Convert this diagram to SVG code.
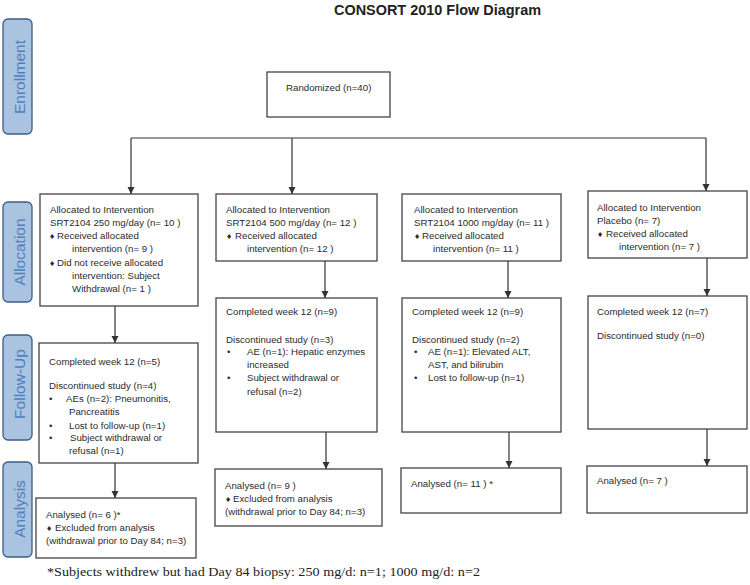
<svg xmlns="http://www.w3.org/2000/svg" width="750" height="585" viewBox="0 0 750 585">
<defs>
<marker id="arr" markerUnits="userSpaceOnUse" markerWidth="8" markerHeight="8" refX="7" refY="3.5" orient="auto">
<path d="M0,0 L7,3.5 L0,7 z" fill="#333"/>
</marker>
<style>
.box{fill:#fff;stroke:#444;stroke-width:1.3}
.lab{fill:#a9c3e0;stroke:#3b5d86;stroke-width:1.3}
.labt{font-family:"Liberation Sans",Arial,sans-serif;font-size:15.5px;fill:#4f7fbe;text-anchor:middle}
.t{font-family:"Liberation Sans",Arial,sans-serif;font-size:9.7px;fill:#2b2b2b}
.d{font-family:"DejaVu Sans",sans-serif;font-size:7px;fill:#2b2b2b}
.conn{fill:none;stroke:#333;stroke-width:1.2}
</style>
</defs>
<rect width="750" height="585" fill="#fff"/>
<text x="437.5" y="15" font-family="Liberation Sans, Arial, sans-serif" font-size="14" font-weight="bold" fill="#222" text-anchor="middle" textLength="207" lengthAdjust="spacingAndGlyphs">CONSORT 2010 Flow Diagram</text>

<g id="label-enrollment"><rect class="lab" x="3" y="19" width="29" height="115" rx="5"/><text class="labt" transform="translate(25,77) rotate(-90)">Enrollment</text></g>
<g id="label-allocation"><rect class="lab" x="3" y="202" width="29" height="100" rx="5"/><text class="labt" transform="translate(25,252) rotate(-90)">Allocation</text></g>
<g id="label-followup"><rect class="lab" x="3" y="335" width="29" height="105" rx="5"/><text class="labt" transform="translate(25,384) rotate(-90)">Follow-Up</text></g>
<g id="label-analysis"><rect class="lab" x="3" y="462" width="29" height="95" rx="5"/><text class="labt" transform="translate(25,509) rotate(-90)">Analysis</text></g>

<g id="randomized"><rect class="box" x="267" y="72" width="123" height="45"/><text class="t" x="286" y="90.5">Randomized (n=40)</text></g>

<g id="alloc-250"><rect class="box" x="40" y="194" width="158" height="112"/>
<text class="t" x="50" y="213">Allocated to Intervention</text>
<text class="t" x="50" y="226">SRT2104 250 mg/day (n= 10 )</text>
<text class="d" x="49" y="239">♦</text><text class="t" x="57" y="239">Received allocated</text>
<text class="t" x="72" y="252">intervention (n= 9 )</text>
<text class="d" x="49" y="265.5">♦</text><text class="t" x="57" y="265.5">Did not receive allocated</text>
<text class="t" x="72" y="279">intervention: Subject</text>
<text class="t" x="72" y="292">Withdrawal (n= 1 )</text>
</g>
<g id="alloc-500"><rect class="box" x="216" y="194" width="161" height="67"/>
<text class="t" x="226" y="213">Allocated to Intervention</text>
<text class="t" x="226" y="226">SRT2104 500 mg/day (n= 12 )</text>
<text class="d" x="226" y="239">♦</text><text class="t" x="235" y="239">Received allocated</text>
<text class="t" x="247" y="252">intervention (n= 12 )</text>
</g>
<g id="alloc-1000"><rect class="box" x="402" y="194" width="159" height="67"/>
<text class="t" x="414" y="213">Allocated to Intervention</text>
<text class="t" x="414" y="226">SRT2104 1000 mg/day (n= 11 )</text>
<text class="d" x="414" y="239">♦</text><text class="t" x="422" y="239">Received allocated</text>
<text class="t" x="433" y="252">intervention (n= 11 )</text>
</g>
<g id="alloc-placebo"><rect class="box" x="588" y="191" width="159" height="67"/>
<text class="t" x="597" y="210.5">Allocated to Intervention</text>
<text class="t" x="597" y="223.5">Placebo (n= 7)</text>
<text class="d" x="597" y="236.5">♦</text><text class="t" x="606" y="236.5">Received allocated</text>
<text class="t" x="619" y="249.5">intervention (n= 7 )</text>
</g>

<g id="fu-250"><rect class="box" x="39" y="343" width="159" height="120"/>
<text class="t" x="49" y="365">Completed week 12 (n=5)</text>
<text class="t" x="49" y="388.5">Discontinued study (n=4)</text>
<text class="t" x="49" y="402">•</text><text class="t" x="66" y="402">AEs (n=2): Pneumonitis,</text>
<text class="t" x="69" y="415">Pancreatitis</text>
<text class="t" x="49" y="428.5">•</text><text class="t" x="69" y="428.5">Lost to follow-up (n=1)</text>
<text class="t" x="49" y="441">•</text><text class="t" x="70" y="441">Subject withdrawal or</text>
<text class="t" x="69" y="454">refusal (n=1)</text>
</g>
<g id="fu-500"><rect class="box" x="216" y="298" width="161" height="134"/>
<text class="t" x="226" y="315">Completed week 12 (n=9)</text>
<text class="t" x="226" y="342.5">Discontinued study (n=3)</text>
<text class="t" x="227" y="355">•</text><text class="t" x="247" y="355">AE (n=1): Hepatic enzymes</text>
<text class="t" x="247" y="367.5">increased</text>
<text class="t" x="227" y="381">•</text><text class="t" x="247" y="381">Subject withdrawal or</text>
<text class="t" x="247" y="395">refusal (n=2)</text>
</g>
<g id="fu-1000"><rect class="box" x="402" y="298" width="159" height="134"/>
<text class="t" x="412" y="315">Completed week 12 (n=9)</text>
<text class="t" x="412" y="342.5">Discontinued study (n=2)</text>
<text class="t" x="414" y="355">•</text><text class="t" x="428" y="355">AE (n=1): Elevated ALT,</text>
<text class="t" x="428" y="367.5">AST, and bilirubin</text>
<text class="t" x="414" y="381">•</text><text class="t" x="428" y="381">Lost to follow-up (n=1)</text>
</g>
<g id="fu-placebo"><rect class="box" x="588" y="296" width="159" height="133"/>
<text class="t" x="597" y="314.5">Completed week 12 (n=7)</text>
<text class="t" x="597" y="338.5">Discontinued study (n=0)</text>
</g>

<g id="an-250"><rect class="box" x="36" y="498" width="160" height="60"/>
<text class="t" x="46" y="517.5">Analysed  (n= 6 )*</text>
<text class="d" x="46" y="531">♦</text><text class="t" x="55" y="531">Excluded from analysis</text>
<text class="t" x="46" y="543.5">(withdrawal prior to Day 84; n=3)</text>
</g>
<g id="an-500"><rect class="box" x="215" y="469" width="167" height="57"/>
<text class="t" x="225" y="488.5">Analysed  (n= 9 )</text>
<text class="d" x="225" y="502">♦</text><text class="t" x="233" y="502">Excluded from analysis</text>
<text class="t" x="225" y="515">(withdrawal prior to Day 84; n=3)</text>
</g>
<g id="an-1000"><rect class="box" x="401" y="468" width="160" height="45"/>
<text class="t" x="411" y="487">Analysed  (n= 11 ) *</text>
</g>
<g id="an-placebo"><rect class="box" x="587" y="466" width="160" height="47"/>
<text class="t" x="597" y="484">Analysed  (n= 7 )</text>
</g>

<g id="connectors">
<path class="conn" d="M131,138 H706"/>
<path class="conn" d="M131,138 V194" marker-end="url(#arr)"/>
<path class="conn" d="M292,138 V194" marker-end="url(#arr)"/>
<path class="conn" d="M706,138 V191" marker-end="url(#arr)"/>
<path class="conn" d="M115,306 V343" marker-end="url(#arr)"/>
<path class="conn" d="M325,261 V298" marker-end="url(#arr)"/>
<path class="conn" d="M508,261 V298" marker-end="url(#arr)"/>
<path class="conn" d="M707,258 V296" marker-end="url(#arr)"/>
<path class="conn" d="M115,463 V498" marker-end="url(#arr)"/>
<path class="conn" d="M326,432 V469" marker-end="url(#arr)"/>
<path class="conn" d="M509,432 V468" marker-end="url(#arr)"/>
<path class="conn" d="M707,429 V466" marker-end="url(#arr)"/>
</g>

<text x="47" y="576" font-family="Liberation Serif, 'Times New Roman', serif" font-size="13.5" fill="#222" textLength="433" lengthAdjust="spacingAndGlyphs">*Subjects withdrew but had Day 84 biopsy: 250 mg/d: n=1; 1000 mg/d: n=2</text>
</svg>
